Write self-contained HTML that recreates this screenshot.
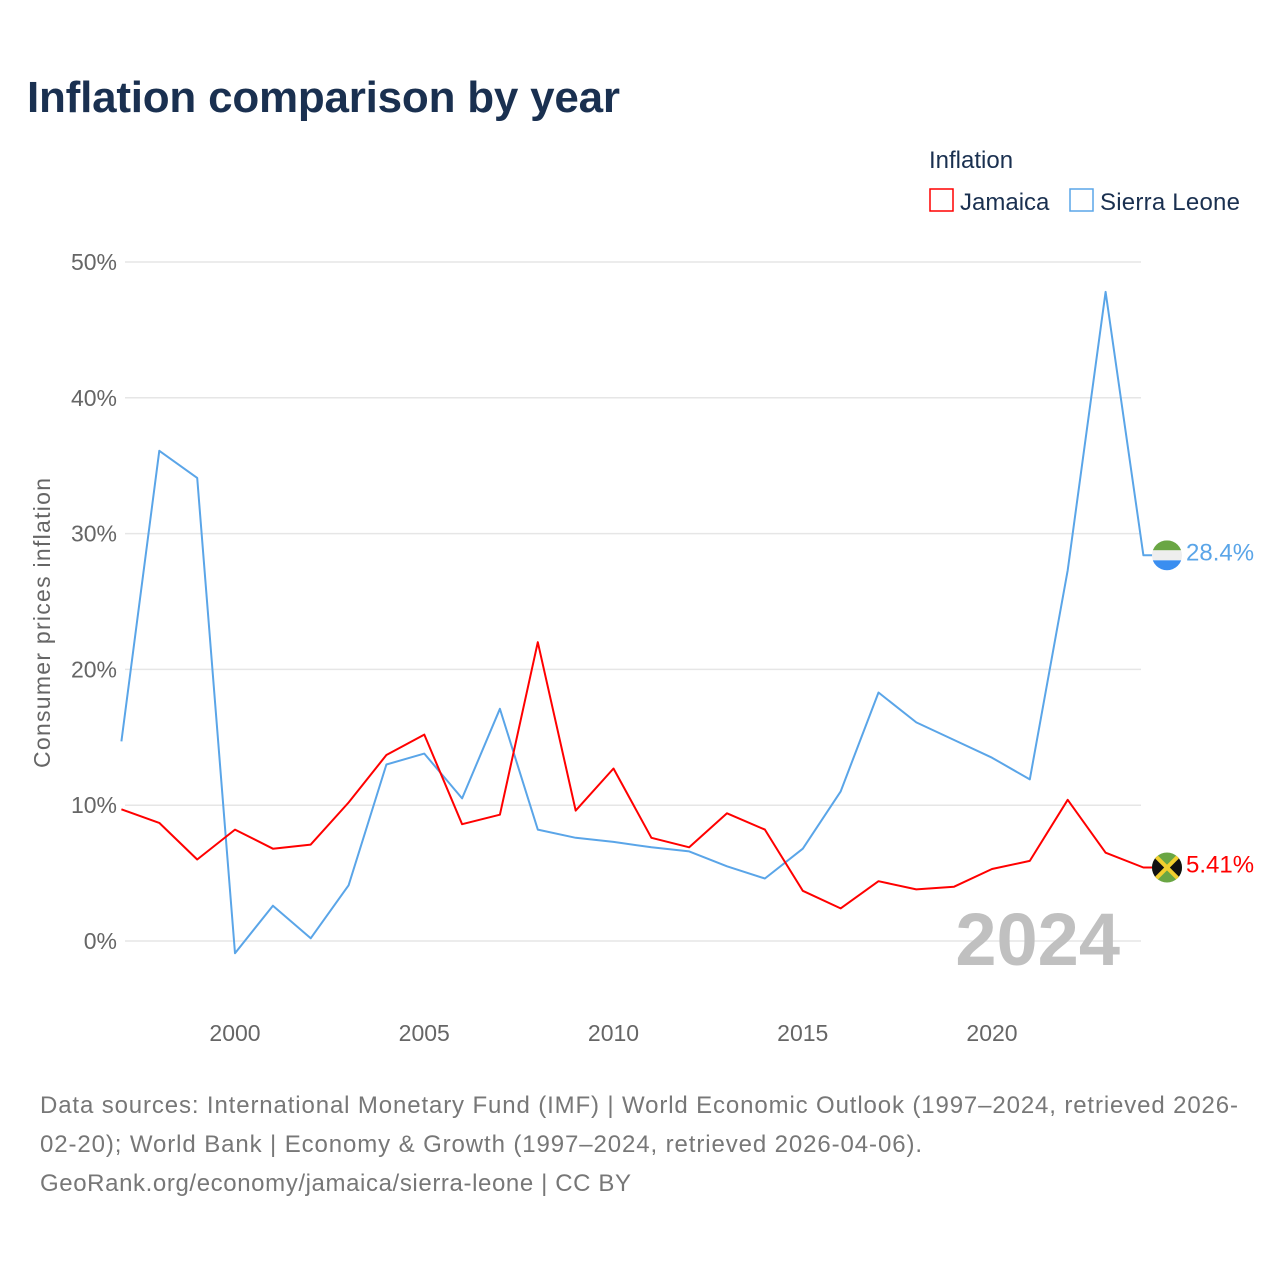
<!DOCTYPE html>
<html><head><meta charset="utf-8"><style>
body{margin:0;background:#fff;font-family:"Liberation Sans",sans-serif;}
</style></head><body>
<svg id="chart" width="1280" height="1280" xmlns="http://www.w3.org/2000/svg" style="display:block">
<rect width="1280" height="1280" fill="#fff"/>
<text x="27" y="112" font-size="44" font-weight="bold" fill="#1a3050" textLength="593">Inflation comparison by year</text>
<text x="929" y="168" font-size="24" fill="#1a3050">Inflation</text>
<g><rect x="930" y="189" width="23" height="22" fill="none" stroke="#ff0000" stroke-width="1.5"/><text x="960" y="210" font-size="24" fill="#1a3050">Jamaica</text></g>
<g><rect x="1070" y="189" width="23" height="22" fill="none" stroke="#5aa5e8" stroke-width="1.5"/><text x="1100" y="210" font-size="24" fill="#1a3050" textLength="140">Sierra Leone</text></g>
<g id="grid"></g>
<g id="yticks"></g>
<g id="xticks"></g>
<text transform="translate(50,623) rotate(-90)" text-anchor="middle" font-size="23" fill="#666" textLength="290">Consumer prices inflation</text>
<text x="1120" y="965" text-anchor="end" font-size="74" font-weight="bold" fill="#c0c0c0">2024</text>
<g id="series"></g>
<g font-size="24" fill="#777">
<text x="40" y="1113" textLength="1198">Data sources: International Monetary Fund (IMF) | World Economic Outlook (1997–2024, retrieved 2026-</text>
<text x="40" y="1152" textLength="882">02-20); World Bank | Economy &amp; Growth (1997–2024, retrieved 2026-04-06).</text>
<text x="40" y="1191" textLength="591">GeoRank.org/economy/jamaica/sierra-leone | CC BY</text>
</g>
</svg>
<script>
const years=[1997,1998,1999,2000,2001,2002,2003,2004,2005,2006,2007,2008,2009,2010,2011,2012,2013,2014,2015,2016,2017,2018,2019,2020,2021,2022,2023,2024];
const jamaica=[9.7,8.7,6.0,8.2,6.8,7.1,10.2,13.7,15.2,8.6,9.3,22.0,9.6,12.7,7.6,6.9,9.4,8.2,3.7,2.4,4.4,3.8,4.0,5.3,5.9,10.4,6.5,5.41];
const sierraLeone=[14.7,36.1,34.1,-0.9,2.6,0.2,4.1,13.0,13.8,10.5,17.1,8.2,7.6,7.3,6.9,6.6,5.5,4.6,6.8,11.0,18.3,16.1,14.8,13.5,11.9,27.3,47.8,28.4];
const yTicks=[0,10,20,30,40,50];
const xTicks=[2000,2005,2010,2015,2020];
const NS="http://www.w3.org/2000/svg";
const x=v=>235+(v-2000)*37.85;
const y=v=>941-v*13.58;
function mk(t,a,p){const e=document.createElementNS(NS,t);for(const k in a)e.setAttribute(k,a[k]);p.appendChild(e);return e;}
const grid=document.getElementById('grid'),yt=document.getElementById('yticks'),xt=document.getElementById('xticks'),ser=document.getElementById('series');
yTicks.forEach(t=>{
 const l=mk('line',{x1:125,x2:1141,y1:y(t),y2:y(t),stroke:'#e6e6e6','stroke-width':1.5},grid);
 
 
 const tx=mk('text',{x:117,y:y(t)+8,'text-anchor':'end','font-size':23,fill:'#666'},yt);
 tx.textContent=t+'%';
 
 
});
xTicks.forEach(t=>{
 const tx=mk('text',{x:x(t),y:1041,'text-anchor':'middle','font-size':23,fill:'#666'},xt);
 tx.textContent=t;
 
 
});
function line(vals,color,name,label,flag){
 const last=vals[vals.length-1];
 let d=vals.map((v,i)=>(i?'L':'M')+x(years[i]).toFixed(1)+','+y(v).toFixed(1)).join('')+'L'+(x(2024)+9)+','+y(last).toFixed(1);
 const p=mk('path',{d:d,fill:'none',stroke:color,'stroke-width':2,'stroke-linejoin':'round'},ser);
 
 
 const g=mk('g',{},ser);
 
 
 const cx=1167,cy=y(last);
 const cp='cp'+name;
 const cl=mk('clipPath',{id:cp},g);mk('circle',{cx:cx,cy:cy,r:15},cl);
 const gg=mk('g',{'clip-path':'url(#'+cp+')'},g);
 flag(gg,cx,cy);
 const t=mk('text',{x:1186,y:cy+5,'font-size':24,fill:color},ser);
 t.textContent=label;
 
 
}
line(sierraLeone,'#5aa5e8','sierra-leone','28.4%',(g,cx,cy)=>{
 mk('rect',{x:cx-15,y:cy-15,width:30,height:10,fill:'#6aa644'},g);
 mk('rect',{x:cx-15,y:cy-5,width:30,height:10,fill:'#eeeeee'},g);
 mk('rect',{x:cx-15,y:cy+5,width:30,height:10,fill:'#3a8ef0'},g);
});
line(jamaica,'#ff0000','jamaica','5.41%',(g,cx,cy)=>{
 mk('rect',{x:cx-15,y:cy-15,width:30,height:30,fill:'#6aa644'},g);
 mk('polygon',{points:`${cx-15},${cy-15} ${cx},${cy} ${cx-15},${cy+15}`,fill:'#111'},g);
 mk('polygon',{points:`${cx+15},${cy-15} ${cx},${cy} ${cx+15},${cy+15}`,fill:'#111'},g);
 mk('line',{x1:cx-15,y1:cy-15,x2:cx+15,y2:cy+15,stroke:'#f2cf2e','stroke-width':4},g);
 mk('line',{x1:cx+15,y1:cy-15,x2:cx-15,y2:cy+15,stroke:'#f2cf2e','stroke-width':4},g);
});
</script>
</body></html>
